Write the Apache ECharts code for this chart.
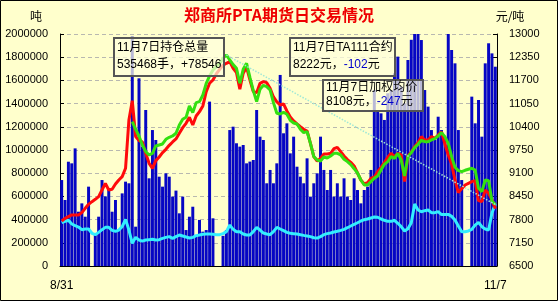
<!DOCTYPE html>
<html>
<head>
<meta charset="utf-8">
<title>郑商所PTA期货日交易情况</title>
<script src="https://cdn.jsdelivr.net/npm/echarts@6/dist/echarts.min.js"></script>
<style>
  html, body { margin: 0; padding: 0; background: #ffffcc; }
  #chart { width: 558px; height: 301px; }
</style>
</head>
<body>
<div id="chart"></div>
<script>
// x labels: only the first and last day are labelled
const dates = ['8/31', ...Array(128).fill(''), '11/7'];

// 成交量 (吨) - blue bars, left axis
const volume = [
  741000, 569000, 899000, 885000, 1014000, 468000, 540000, 425000, 684000, 0,
  282000, 425000, 741000, 600000, 670000, 468000, 569000, 310000, 626000, 727000,
  713000, 1977000, 339000, 1618000, 1029000, 1345000, 756000, 1172000, 1086000, 770000,
  684000, 799000, 770000, 598000, 650000, 454000, 598000, 310000, 425000, 511000,
  253000, 397000, 296000, 310000, 1417000, 411000, 0, 0, 260000, 310000,
  1172000, 1201000, 1058000, 1029000, 1043000, 885000, 900000, 914000, 1345000, 1115000,
  1086000, 713000, 828000, 713000, 885000, 1647000, 1144000, 1230000, 971000, 1115000,
  856000, 770000, 713000, 928000, 598000, 713000, 799000, 1115000, 828000, 655000,
  828000, 598000, 713000, 598000, 756000, 598000, 569000, 756000, 655000, 540000,
  655000, 684000, 828000, 1517000, 1345000, 1316000, 1259000, 1489000, 1517000, 1661000,
  1805000, 1546000, 1402000, 1776000, 1950000, 2050000, 2050000, 1948000, 1517000, 1374000,
  1172000, 1086000, 1287000, 1172000, 1086000, 2050000, 1862000, 1747000, 1172000, 741000,
  0, 0, 1460000, 1230000, 1431000, 1115000, 1747000, 1920000, 1833000, 1718000
];

// 持仓总量 (吨) - cyan line, left axis
const openInterest = [
  373000, 385000, 394000, 362000, 348000, 336000, 313000, 319000, 319000, 282000,
  270000, 290000, 313000, 333000, 333000, 307000, 299000, 310000, 339000, 402000,
  310000, 195000, 247000, 224000, 215000, 224000, 227000, 230000, 224000, 227000,
  238000, 247000, 253000, 238000, 253000, 267000, 259000, 250000, 241000, 247000,
  262000, 267000, 273000, 276000, 276000, 273000, 270000, 270000, 279000, 296000,
  353000, 316000, 296000, 296000, 276000, 267000, 267000, 296000, 333000, 310000,
  284000, 276000, 270000, 296000, 333000, 319000, 305000, 290000, 282000, 279000,
  276000, 270000, 264000, 259000, 253000, 244000, 241000, 253000, 270000, 279000,
  284000, 293000, 299000, 307000, 316000, 330000, 345000, 359000, 373000, 388000,
  399000, 405000, 414000, 422000, 420000, 405000, 394000, 385000, 385000, 394000,
  368000, 339000, 302000, 322000, 373000, 534000, 483000, 468000, 477000, 483000,
  460000, 460000, 468000, 443000, 445000, 445000, 428000, 397000, 345000, 296000,
  296000, 302000, 316000, 353000, 376000, 339000, 319000, 310000, 457000, 535468
];

// 加权均价 (元/吨) - red line, right axis
const avgPrice = [
  7761, 7836, 7883, 7930, 7930, 7930, 7995, 8116, 8228, 8303,
  8368, 8443, 8630, 8817, 8630, 8649, 8798, 8910, 9003, 9237,
  10591, 11133, 10124, 10012, 9975, 9657, 9377, 9237, 9452, 9555,
  9676, 9769, 9881, 9975, 10059, 10218, 10376, 10498, 10666, 10451,
  10703, 10825, 10984, 11385, 11619, 11712, 11880, 12011, 12123, 12179,
  12226, 12039, 11918, 11451, 11899, 12067, 11712, 11385, 11357, 11619,
  11665, 11637, 11479, 11236, 11096, 11012, 11040, 10843, 10675, 10563,
  10479, 10404, 10330, 10283, 9937, 9564, 9442, 9517, 9639, 9639,
  9657, 9788, 9825, 9704, 9582, 9480, 9405, 9302, 9106, 8910,
  8798, 8835, 8957, 8985, 9143, 9265, 9396, 9545, 9657, 9564,
  9657, 9611, 8863, 9582, 9695, 9844, 9956, 10124, 10031, 10031,
  10124, 10078, 10171, 10255, 9919, 9611, 9358, 8910, 8555, 8667,
  8770, 8817, 8863, 8891, 8331, 8303, 8630, 8537, 8355, 8108
];

// TA111合约 (元/吨) - green line, right axis, listed later
const ta111 = [
  null, null, null, null, null, null, null, null, null, null,
  null, null, null, null, null, null, null, null, null, null,
  null, 10544, 10330, 10143, 9891, 9704, 9611, 9657, 9863, 9891,
  9919, 10050, 10106, 10143, 10218, 10451, 10610, 10666, 10984, 10797,
  11077, 11105, 11292, 11619, 11824, 11992, 12086, 12179, 12319, 12413,
  12272, 12142, 12039, 11619, 12011, 12179, 11787, 11413, 11105, 11450,
  11562, 11525, 11432, 11077, 10778, 10759, 10806, 10750, 10582, 10507,
  10479, 10330, 10236, 10264, 9937, 9564, 9470, 9442, 9555, 9526,
  9582, 9657, 9657, 9611, 9489, 9424, 9340, 9227, 9106, 8910,
  8770, 8770, 8863, 8957, 9022, 9190, 9349, 9424, 9564, 9517,
  9657, 9470, 9022, 9564, 9676, 9816, 9909, 10021, 9984, 9984,
  10031, 10068, 10143, 10236, 10124, 9937, 9564, 9265, 9171, 9143,
  9181, 9209, 9237, 9190, 8677, 8583, 8910, 8891, 8324, 8222
];

// trend from the contract's high to its last close
let peakIdx = 0;
ta111.forEach((v, i) => { if (v != null && v > ta111[peakIdx] || ta111[peakIdx] == null) peakIdx = i; });
const lastIdx = ta111.length - 1;

const labelFont = 'Liberation Sans, Arial, sans-serif';
const cjkFont = '"Noto Sans CJK SC", sans-serif';
const boxFont = '"Liberation Sans", "Noto Sans CJK SC", sans-serif';

function noteBox(x, y, w, h, lines, lh) {
  return {
    type: 'group',
    left: x, top: y,
    z: 100,
    children: [
      { type: 'rect', z: 100, shape: { x: 0, y: 0, width: w, height: h },
        style: { fill: 'rgba(255,255,220,0.72)', stroke: '#555', lineWidth: 2 } },
      { type: 'text', z: 101, x: 3, y: 1,
        style: {
          text: lines.join('\n'),
          font: '12px ' + boxFont,
          fill: '#000',
          lineHeight: lh,
          rich: { b: { fill: '#0000cc', font: '12px ' + boxFont, lineHeight: lh } }
        } }
    ]
  };
}

const chart = echarts.init(document.getElementById('chart'));
chart.setOption({
  animation: false,
  backgroundColor: '#ffffcc',
  grid: { left: 60, right: 61, top: 34, bottom: 35 },
  xAxis: {
    type: 'category',
    data: dates,
    axisLine: { lineStyle: { color: '#000' } },
    axisTick: { show: false },
    axisLabel: { interval: 0, color: '#000', fontSize: 12, fontFamily: labelFont, margin: 14 },
    splitLine: { show: false }
  },
  yAxis: [
    {
      type: 'value', min: 0, max: 2000000, interval: 200000,
      axisLine: { show: true, lineStyle: { color: '#000' } },
      axisTick: { show: true, inside: true, length: 4, lineStyle: { color: '#000' } },
      axisLabel: { color: '#000', fontSize: 11, fontFamily: labelFont, margin: 12, formatter: v => String(v) },
      splitLine: { show: true, lineStyle: { color: '#b8b8b0', type: [4, 3] } }
    },
    {
      type: 'value', min: 6500, max: 13000, interval: 650,
      axisLine: { show: true, lineStyle: { color: '#000' } },
      axisTick: { show: true, inside: true, length: 4, lineStyle: { color: '#000' } },
      axisLabel: { color: '#000', fontSize: 11, fontFamily: labelFont, margin: 12, formatter: v => String(v) },
      splitLine: { show: false }
    }
  ],
  series: [
    {
      name: '成交量', type: 'bar', yAxisIndex: 0, data: volume,
      barCategoryGap: '12%', clip: true,
      itemStyle: { color: '#0606c4' }
    },
    {
      name: '持仓总量', type: 'line', yAxisIndex: 0, data: openInterest,
      symbol: 'none', lineStyle: { color: '#33eeff', width: 3 }
    },
    {
      name: '加权均价', type: 'line', yAxisIndex: 1, data: avgPrice,
      symbol: 'none', lineStyle: { color: '#ff0a0a', width: 3 }
    },
    {
      name: 'TA111合约', type: 'line', yAxisIndex: 1, data: ta111,
      symbol: 'none', lineStyle: { color: '#33e010', width: 3 },
      markLine: {
        silent: true, symbol: 'none', label: { show: false },
        lineStyle: { color: '#9fe8d6', type: 'dotted', width: 1.5 },
        data: [[{ coord: [peakIdx, ta111[peakIdx]] }, { coord: [lastIdx, ta111[lastIdx]] }]]
      }
    }
  ],
  graphic: [
    { type: 'rect', shape: { x: 0.5, y: 0.5, width: 557, height: 300 },
      style: { fill: 'none', stroke: '#000', lineWidth: 1 }, z: 200 },
    { type: 'text', left: 'center', top: 7,
      style: { text: '郑商所PTA期货日交易情况', font: 'bold 16px ' + cjkFont, fill: '#ee0000' } },
    { type: 'text', x: 36, y: 16,
      style: { text: '吨', font: '12px ' + cjkFont, fill: '#000', align: 'center', verticalAlign: 'middle' } },
    { type: 'text', x: 510, y: 16,
      style: { text: '元/吨', font: '12px ' + cjkFont, fill: '#000', align: 'center', verticalAlign: 'middle' } },
    noteBox(113, 37, 110, 38, ['11月7日持仓总量', '535468手，+78546'], 17),
    noteBox(289, 37, 105, 38, ['11月7日TA111合约', '8222元，{b|-102}元'], 17),
    noteBox(322, 79, 100, 31, ['11月7日加权均价', '8108元，{b|-247}元'], 14)
  ]
});
</script>
</body>
</html>
